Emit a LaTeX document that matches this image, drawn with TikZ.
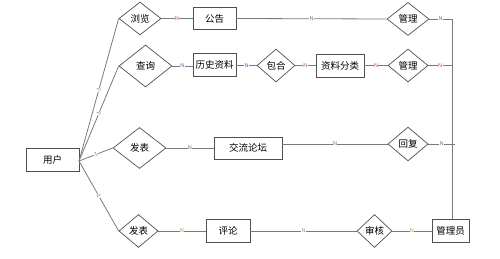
\documentclass[tikz,border=0pt]{standalone}
\usepackage{fontspec}
\setmainfont{Noto Sans CJK SC}
\newfontfamily\labfont{Liberation Sans}
\usetikzlibrary{shapes.geometric}
\definecolor{linec}{HTML}{7A7A7A}
\definecolor{boxc}{HTML}{505050}
\definecolor{nred}{HTML}{C0502A}
\definecolor{nblue}{HTML}{3A6FC0}
\definecolor{norange}{HTML}{D08A2A}
\definecolor{ngray}{HTML}{707070}
\tikzset{
  x=1pt,y=-1pt,
  ent/.style={draw=boxc,line width=0.9pt,rectangle,inner sep=1pt,font=\fontsize{9.5}{10}\selectfont},
  rel/.style={draw=boxc,line width=0.7pt,diamond,inner sep=0pt,font=\fontsize{9.5}{10}\selectfont},
  conn/.style={draw=linec,line width=0.8pt},
  nlab/.style={font=\labfont\fontsize{5.5}{6}\selectfont,inner sep=0.4pt,fill=white},
  onelab/.style={font=\labfont\fontsize{5.5}{6}\selectfont,inner sep=0.3pt,sloped,fill=white,text=ngray}
}
\begin{document}
\begin{tikzpicture}
\useasboundingbox (0,0) rectangle (500,259);
% entities
\node[ent,minimum width=53pt,minimum height=23pt] (yh) at (52.5,159.5) {用户};
\node[ent,minimum width=43pt,minimum height=22pt] (gg) at (214.5,18.5) {公告};
\node[ent,minimum width=43pt,minimum height=23pt] (ls) at (214.5,64.5) {历史资料};
\node[ent,minimum width=48pt,minimum height=23pt] (zl) at (340,65.5) {资料分类};
\node[ent,minimum width=68pt,minimum height=22pt] (jl) at (248,148) {交流论坛};
\node[ent,minimum width=44pt,minimum height=23pt] (pl) at (228,231) {评论};
\node[ent,minimum width=37pt,minimum height=23pt] (gly) at (450.5,231) {管理员};
% relationships
\node[rel,minimum width=42pt,minimum height=33pt] (ll) at (140,18.5) {浏览};
\node[rel,minimum width=42pt,minimum height=33pt] (gl1) at (408,19) {管理};
\node[rel,minimum width=53pt,minimum height=42pt] (cx) at (145.5,66) {查询};
\node[rel,minimum width=38pt,minimum height=33pt] (bh) at (276,65.5) {包合};
\node[rel,minimum width=40pt,minimum height=33pt] (gl2) at (408,65.5) {管理};
\node[rel,minimum width=53pt,minimum height=41pt] (fb1) at (139.5,148) {发表};
\node[rel,minimum width=40pt,minimum height=34pt] (hf) at (408,144) {回复};
\node[rel,minimum width=39pt,minimum height=33pt] (fb2) at (138.5,231) {发表};
\node[rel,minimum width=35pt,minimum height=33pt] (sh) at (374.5,231) {审核};
% helper coordinates
\coordinate (yo) at (79,161);
\coordinate (vt) at (452,19);
\coordinate (v2) at (452,65.5);
\coordinate (v3) at (455,144);
% user lines
\draw[conn] (yo) -- node[onelab,pos=0.5]{1} (ll.west);
\draw[conn] (yo) -- node[onelab,pos=0.5]{1} (cx.west);
\draw[conn] (yo) -- node[onelab,pos=0.5]{1} (fb1.west);
\draw[conn] (yo) -- node[onelab,pos=0.5]{1} (fb2.west);
% row 1
\draw[conn] (ll.east) -- node[nlab,text=nred]{N} (gg.west);
\draw[conn] (gg.east) -- node[nlab,text=ngray]{N} (gl1.west);
\draw[conn] (gl1.east) -- node[nlab,text=ngray]{N} (vt);
% row 2
\draw[conn] (cx.east) -- node[nlab,text=nblue]{N} (ls.west |- cx.east);
\draw[conn] (ls.east |- bh.west) -- node[nlab,text=nblue]{N} (bh.west);
\draw[conn] (bh.east) -- node[nlab,text=nred]{N} (zl.west);
\draw[conn] (zl.east) -- node[nlab,text=nred]{N} (gl2.west);
\draw[conn] (gl2.east) -- node[nlab,text=nred]{N} (v2);
% row 3
\draw[conn] (fb1.east) -- node[nlab,text=ngray]{N} (jl.west);
\draw[conn] (jl.east |- hf.west) -- node[nlab,text=ngray]{N} (hf.west);
\draw[conn] (hf.east) -- node[nlab,text=ngray]{N} (v3);
% row 4
\draw[conn] (fb2.east) -- node[nlab,text=norange]{N} (pl.west);
\draw[conn] (pl.east) -- node[nlab,text=norange]{N} (sh.west);
\draw[conn] (sh.east) -- node[nlab,text=norange]{N} (gly.west);
% vertical
\draw[conn] (vt) -- (vt |- gly.north);
\end{tikzpicture}
\end{document}
